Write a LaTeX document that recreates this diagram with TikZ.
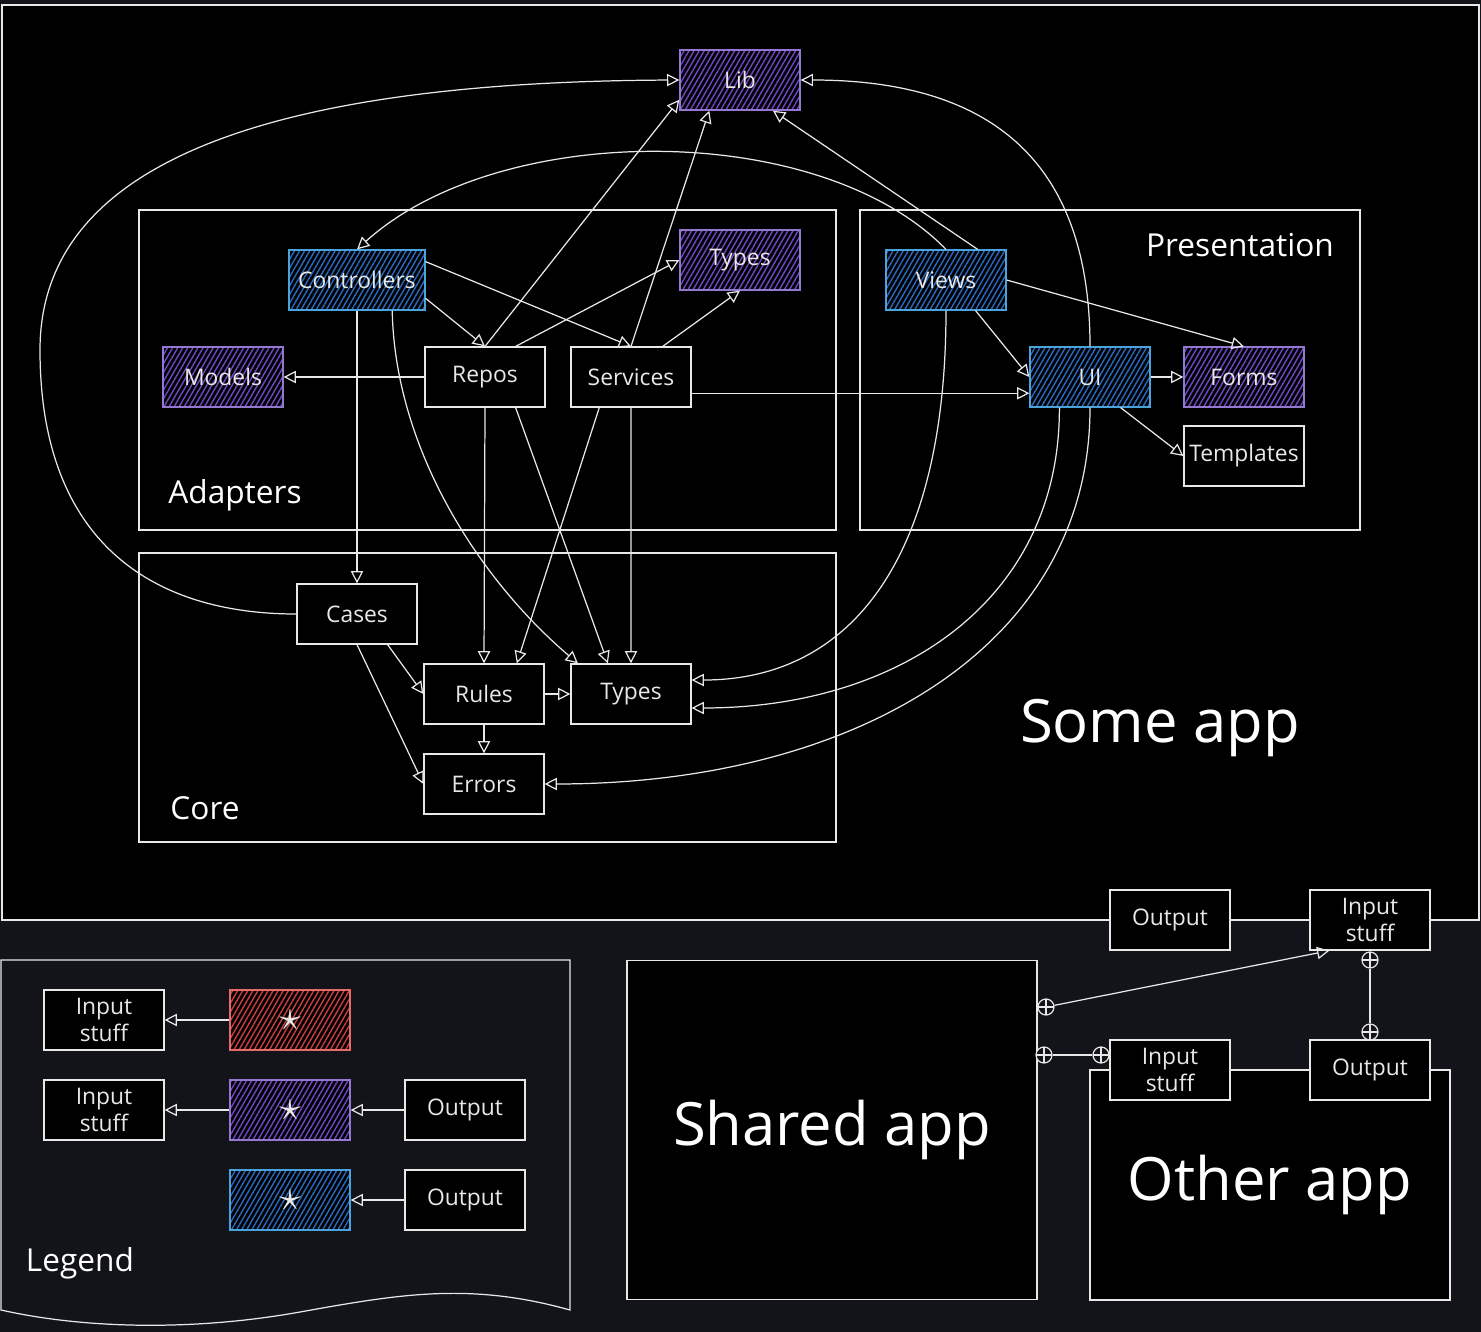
\documentclass[tikz,border=0pt]{standalone}
\usepackage{fontspec}
\setmainfont{Open Sans}
\usepackage{xcolor}
\usetikzlibrary{shapes,arrows.meta,positioning,calc,patterns.meta}

\definecolor{bgdark}{HTML}{121419}
\definecolor{ink}{HTML}{E8E8E8}
\definecolor{blueedge}{HTML}{4BA3DC}
\definecolor{bluehatch}{HTML}{2A6AC0}
\definecolor{purpedge}{HTML}{9478D0}
\definecolor{purphatch}{HTML}{7048C4}
\definecolor{rededge}{HTML}{E66A6A}
\definecolor{redhatch}{HTML}{C84040}

\tikzset{
  comp/.style={draw=ink, fill=black, text=ink, align=center, minimum width=2.4cm, minimum height=1.2cm, inner sep=0pt, font=\fontsize{13}{15}\selectfont},
  hatched/.style={comp, draw=#1edge, preaction={fill=black}, pattern={Lines[angle=60,distance=2.5pt,line width=.8pt]}, pattern color=#1hatch},
  marker/.style={font=\fontsize{28}{28}\selectfont},
  group/.style={draw=ink, line width=.7pt},
  grouplabel/.style={text=white, font=\fontsize{18}{22}\selectfont},
  applabel/.style={text=white, font=\fontsize{34}{40}\selectfont},
  app/.style={draw=ink, fill=black, applabel},
  port/.style={circle, draw=ink, fill=bgdark, minimum size=.32cm, inner sep=0pt,
    path picture={\draw[ink] (path picture bounding box.north) -- (path picture bounding box.south)
      (path picture bounding box.west) -- (path picture bounding box.east);}},
}

\begin{document}
\begin{tikzpicture}[x=0.02cm, y=-0.02cm, ink, line width=.7pt, >={Triangle[open,length=7pt,width=7pt]}]
\useasboundingbox (0,0) rectangle (1481,1332);
\fill[bgdark] (0,0) rectangle (1481,1332);

\draw[group, fill=black] (2,5) rectangle (1479,920);
\node[applabel] (someapp) at (1160,728) {Some app};

\draw[group] (139,210) rectangle (836,530);
\node[grouplabel] (adapters) at (235,495) {Adapters};
\draw[group] (860,210) rectangle (1360,530);
\node[grouplabel] (presentation) at (1240,245) {Presentation};
\draw[group] (139,553) rectangle (836,842);
\node[grouplabel] (core) at (205,808) {Core};

\node[hatched=purp] (lib) at (740,80) {Lib};
\node[hatched=purp] (atypes) at (740,260) {Types};
\node[hatched=blue, minimum width=2.72cm] (ctrl) at (357,280) {Controllers};
\node[hatched=purp] (models) at (223,377) {Models};
\node[comp] (repos) at (485,377) {Repos};
\node[comp, right of=repos, node distance=2.92cm] (serv) {Services};

\node[hatched=blue] (views) at (946,280) {Views};
\node[hatched=blue] (ui) at (1090,377) {UI};
\node[hatched=purp, right of=ui, node distance=3.08cm] (forms) {Forms};
\node[comp, below of=forms, node distance=1.58cm] (templates) {Templates};

\node[comp] (cases) at (357,614) {Cases};
\node[comp] (rules) at (484,694) {Rules};
\node[comp, right of=rules, node distance=2.94cm] (ctypes) {Types};
\node[comp, below of=rules, node distance=1.8cm] (errors) {Errors};

\draw[->] (cases.west) .. controls (150,614) and (40,540) .. (40,350) .. controls (40,170) and (250,82) .. (lib.west);
\draw[->] (repos.north) -- (lib.198);
\draw[->] (serv.north) -- (lib.225);
\draw[->] (views.44) -- (lib.317);
\draw[->] (ui.north) .. controls (1090,170) and (1000,80) .. (lib.east);
\draw[->] (views.north) .. controls (820,120) and (500,120) .. (ctrl.north);

\draw[->] (ctrl.15) -- (serv.north);
\draw[->] (ctrl.-15) -- (repos.north);
\draw[->] (ctrl.south) -- (cases.north);
\draw[->] (ctrl.-41) .. controls (395,450) and (480,580) .. (ctypes.150);
\draw[->] (repos.west) -- (models.east);
\draw[->] (repos.45) -- (atypes.west);
\draw[->] (serv.44) -- (atypes.south);
\draw[->] (repos.south) -- (rules.north);
\draw[->] (repos.-45) -- (ctypes.127);
\draw[->] (serv.224) -- (rules.43);
\draw[->] (serv.south) -- (ctypes.north);
\draw[->] (serv.-15) -- (ui.-165);

\draw[->] (views.east) -- (forms.north);
\draw[->] (views.-46) -- (ui.west);
\draw[->] (ui.east) -- (forms.west);
\draw[->] (ui.-45) -- (templates.west);
\draw[->] (views.south) .. controls (946,560) and (850,680) .. (ctypes.13);
\draw[->] (ui.-135) .. controls (1060,600) and (900,708) .. (ctypes.-13);
\draw[->] (ui.south) .. controls (1090,650) and (850,784) .. (errors.east);

\draw[->] (cases.-45) -- (rules.west);
\draw[->] (cases.south) -- (errors.west);
\draw[->] (rules.east) -- (ctypes.west);
\draw[->] (rules.south) -- (errors.north);

\node[comp] (sout) at (1170,920) {Output};
\node[comp] (sin) at (1370,920) {Input\\stuff};

\node[app, minimum width=8.2cm, minimum height=6.78cm] (shared) at (832,1130) {Shared app};
\node[app, minimum width=7.2cm, minimum height=4.6cm] (other) at (1270,1185) {Other app};
\node[comp] (oin) at (1170,1070) {Input\\stuff};
\node[comp] (oout) at (1370,1070) {Output};

\node[port] (pa) at (1046,1007) {};
\node[port] (pb) at (1370,960) {};
\node[port] (pc) at (1370,1032) {};
\node[port] (pd) at (1044,1055) {};
\node[port] (pe) at (1101,1055) {};
\draw[->] (pa) -- (sin.217);
\draw (pb) -- (pc);
\draw (pd) -- (pe);

\draw[group] (1,960) -- (570,960) -- (570,1310) .. controls (470,1282) and (400,1294) .. (300,1312) .. controls (200,1330) and (90,1330) .. (1,1310) -- cycle;
\node[grouplabel] (legend) at (80,1263) {Legend};
\node[comp] (lin1) at (104,1020) {Input\\stuff};
\node[hatched=red, marker] (lred) at (290,1020) {$\star$};
\node[comp] (lin2) at (104,1110) {Input\\stuff};
\node[hatched=purp, marker] (lpurp) at (290,1110) {$\star$};
\node[comp] (lout1) at (465,1110) {Output};
\node[hatched=blue, marker] (lblue) at (290,1200) {$\star$};
\node[comp] (lout2) at (465,1200) {Output};
\draw[->] (lred) -- (lin1);
\draw[->] (lpurp) -- (lin2);
\draw[->] (lout1) -- (lpurp);
\draw[->] (lout2) -- (lblue);
\end{tikzpicture}
\end{document}
